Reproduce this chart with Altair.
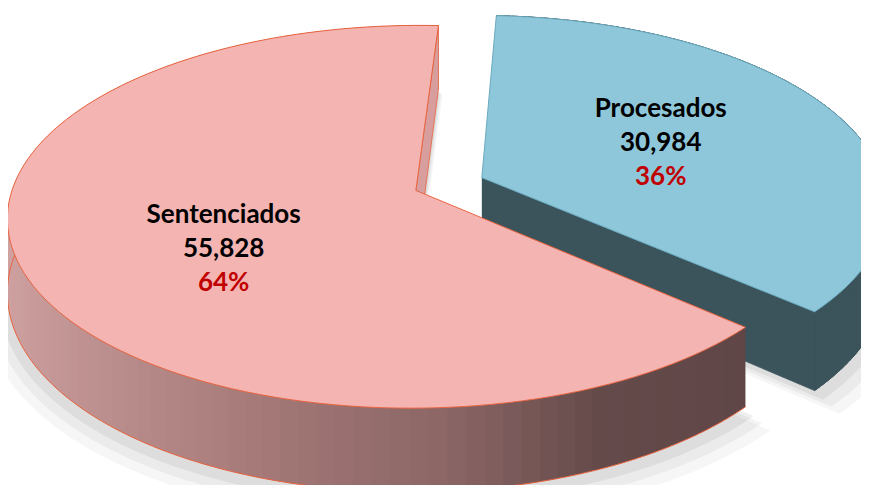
import altair as alt
import pandas as pd

# ---------------- data ----------------
categories = ["Procesados", "Sentenciados"]
values = [30984, 55828]
slice_order = [0, 1]

# ---------------- style / geometry ----------------
WIDTH, HEIGHT = 853, 477
CX, CY = 449, 184          # projected centre of the (un-exploded) pie
RX, RY = 402, 186          # ellipse radii of the top face
DEPTH = 7.3                # perspective strength (larger = flatter)
THICK = 72                 # pie thickness in px
EXPLODE = 0.089            # explosion as fraction of radius
FIRST_ANGLE = 3            # angle of first slice (deg, clockwise from top)
LABEL_NUDGE = {"Procesados": 0, "Sentenciados": 21}

TOP_COL = {"Procesados": "#8EC7D9", "Sentenciados": "#F4B4B2"}
EDGE_COL = {"Procesados": "#6AAABF", "Sentenciados": "#E8643F"}
CUT_COL = {"Procesados": "#3B545B", "Sentenciados": "#D89E9D"}
BLUE_SIDE = "#3B545B"
PINK_GRAD_DOMAIN = [20, 300, 450, 580, 760]
PINK_GRAD_RANGE = ["#CFA2A1", "#A27776", "#8A6665", "#654A4A", "#5E4545"]

df = pd.DataFrame({"category": categories, "value": values, "order": slice_order})

XS = alt.Scale(domain=[8, 8 + WIDTH], nice=False, zero=False)
YS = alt.Scale(domain=[8, 8 + HEIGHT], reverse=True, nice=False, zero=False)


def base(cat=None):
    ch = (alt.Chart(df)
          .transform_joinaggregate(total="sum(value)")
          .transform_window(cum="sum(value)", sort=[alt.SortField("order", order="ascending")],
                            frame=[None, 0])
          .transform_calculate(a0=f"((datum.cum - datum.value) / datum.total * 360 + {FIRST_ANGLE}) * PI / 180")
          .transform_calculate(a1=f"(datum.cum / datum.total * 360 + {FIRST_ANGLE}) * PI / 180")
          .transform_calculate(am="(datum.a0 + datum.a1) / 2")
          .transform_calculate(ex=f"{EXPLODE} * sin(datum.am)")
          .transform_calculate(ey=f"-{EXPLODE} * cos(datum.am)"))
    if cat is not None:
        ch = ch.transform_filter(alt.datum.category == cat)
    return ch


def project(ch, z="0", dx=0, dy=0):
    return (ch.transform_calculate(s=f"{DEPTH} / ({DEPTH} - datum.v)")
              .transform_calculate(px=f"{CX + dx} + {RX} * datum.u * datum.s")
              .transform_calculate(py=f"{CY + dy} + ({RY} * datum.v + {z}) * datum.s"))


def enc(ch, detail, **extra):
    return ch.encode(x=alt.X("px:Q", scale=XS, axis=None),
                     y=alt.Y("py:Q", scale=YS, axis=None),
                     order=alt.Order("idx:Q"),
                     detail=detail, **extra)


N_ARC = 120


def sector(cat=None, z="0", rs=1.0, dx=0, dy=0):
    ch = base(cat).transform_calculate(idx=f"sequence(0, {N_ARC + 3})").transform_flatten(["idx"])
    ch = ch.transform_calculate(t=f"datum.a0 + (datum.a1 - datum.a0) * clamp(datum.idx - 1, 0, {N_ARC}) / {N_ARC}")
    ch = ch.transform_calculate(r=f"(datum.idx == 0 || datum.idx == {N_ARC + 2}) ? 0 : {rs}")
    ch = ch.transform_calculate(u="datum.ex + datum.r * sin(datum.t)")
    ch = ch.transform_calculate(v="datum.ey - datum.r * cos(datum.t)")
    return project(ch, z, dx, dy)


def arc_line(cat, z):
    ch = base(cat).transform_calculate(idx=f"sequence(0, {N_ARC + 1})").transform_flatten(["idx"])
    ch = ch.transform_calculate(t=f"datum.a0 + (datum.a1 - datum.a0) * datum.idx / {N_ARC}")
    ch = ch.transform_calculate(u="datum.ex + sin(datum.t)")
    ch = ch.transform_calculate(v="datum.ey - cos(datum.t)")
    return project(ch, z)


M_SIDE = 100


def side(cat):
    ch = base(cat).transform_calculate(k=f"sequence(0, {M_SIDE})").transform_flatten(["k"])
    ch = ch.transform_calculate(idx="sequence(0, 4)").transform_flatten(["idx"])
    # quads overlap their neighbour a little so no seams show
    ch = ch.transform_calculate(
        t=f"datum.a0 + (datum.a1 - datum.a0) * ((datum.idx == 1 || datum.idx == 2) ? min(datum.k + 1.8, {M_SIDE}) : datum.k) / {M_SIDE}")
    ch = ch.transform_calculate(tm=f"datum.a0 + (datum.a1 - datum.a0) * (datum.k + 0.5) / {M_SIDE}")
    ch = ch.transform_calculate(z=f"datum.idx >= 2 ? {THICK} : 0")
    ch = ch.transform_calculate(u="datum.ex + sin(datum.t)")
    ch = ch.transform_calculate(v="datum.ey - cos(datum.t)")
    ch = ch.transform_calculate(gx=f"{CX} + {RX} * (datum.ex + sin(datum.tm))")
    return project(ch, "datum.z")


def pxy(u, v):
    s = f"({DEPTH} / ({DEPTH} - ({v})))"
    return f"({RX} * ({u}) * {s})", f"({RY} * ({v}) * {s})"


def radial(cat):
    ch = base(cat).transform_calculate(face="sequence(0, 2)").transform_flatten(["face"])
    ch = ch.transform_calculate(t="datum.face == 0 ? datum.a0 : datum.a1")
    ch = ch.transform_calculate(ti="datum.face == 0 ? datum.a0 + 0.1 : datum.a1 - 0.1")
    X0, Y0 = pxy("datum.ex", "datum.ey")
    X1, Y1 = pxy("datum.ex + sin(datum.t)", "datum.ey - cos(datum.t)")
    XQ, YQ = pxy("datum.ex + 0.5 * sin(datum.ti)", "datum.ey - 0.5 * cos(datum.ti)")
    ch = ch.transform_calculate(
        vis=f"(({X1}) - ({X0})) * ((({X1}) - ({X0})) * (({YQ}) - ({Y0})) - (({Y1}) - ({Y0})) * (({XQ}) - ({X0}))) < 0")
    ch = ch.transform_filter("datum.vis")
    ch = ch.transform_calculate(idx="sequence(0, 4)").transform_flatten(["idx"])
    ch = ch.transform_calculate(r="(datum.idx == 1 || datum.idx == 2) ? 1 : 0")
    ch = ch.transform_calculate(z=f"datum.idx >= 2 ? {THICK} : 0")
    ch = ch.transform_calculate(u="datum.ex + datum.r * sin(datum.t)")
    ch = ch.transform_calculate(v="datum.ey - datum.r * cos(datum.t)")
    return project(ch, "datum.z")


layers = []

# soft shadow (stacked translucent halos under the pie)
for rs, dx, dy, op in [(1.06, 3, 14, 0.035), (1.04, 2, 10, 0.045), (1.02, 1, 6, 0.06)]:
    layers.append(enc(sector(None, z=str(THICK), rs=rs, dx=dx, dy=dy), "category:N").mark_line(
        filled=True, color="#000000", opacity=op, strokeWidth=0))

for cat in categories:
    # curved outer side
    if cat == "Sentenciados":
        grad = alt.Scale(domain=PINK_GRAD_DOMAIN, range=PINK_GRAD_RANGE, clamp=True)
        layers.append(enc(side(cat), ["category:N", "k:O"],
                          fill=alt.Fill("gx:Q", scale=grad, legend=None)).mark_line(
            filled=True, strokeWidth=0))
        layers.append(enc(arc_line(cat, str(THICK)), "category:N").mark_line(
            color=EDGE_COL[cat], strokeWidth=1))
    else:
        layers.append(enc(side(cat), ["category:N", "k:O"]).mark_line(
            filled=True, color=BLUE_SIDE, stroke=BLUE_SIDE, strokeWidth=1))
    # visible radial cut faces
    layers.append(enc(radial(cat), ["category:N", "face:O"]).mark_line(
        filled=True, color=CUT_COL[cat], stroke=EDGE_COL[cat] if cat == "Sentenciados" else CUT_COL[cat],
        strokeWidth=0.8))
    # top face
    layers.append(enc(sector(cat), "category:N").mark_line(
        filled=True, color=TOP_COL[cat], stroke=EDGE_COL[cat], strokeWidth=1))

# labels
nudge_expr = " : ".join(f"datum.category == '{c}' ? {n}" for c, n in LABEL_NUDGE.items()) + " : 0"
lab = base().transform_calculate(u="datum.ex + 0.5 * sin(datum.am)")
lab = lab.transform_calculate(v="datum.ey - 0.5 * cos(datum.am)")
lab = project(lab, z=f"({nudge_expr})")
lab = lab.transform_calculate(vtxt="format(datum.value, ',')")
lab = lab.transform_calculate(ptxt="format(datum.value / datum.total, '.0%')")
pos = dict(x=alt.X("px:Q", scale=XS, axis=None), y=alt.Y("py:Q", scale=YS, axis=None))
FONT = dict(font="Lato", fontWeight="bold", fontSize=26, align="center", baseline="middle")
layers.append(lab.mark_text(dy=-34, color="#000000", **FONT).encode(text="category:N", **pos))
layers.append(lab.mark_text(dy=0, color="#000000", **FONT).encode(text="vtxt:N", **pos))
layers.append(lab.mark_text(dy=34, color="#C00000", **FONT).encode(text="ptxt:N", **pos))

chart = alt.layer(*layers).properties(
    width=WIDTH, height=HEIGHT, padding=0,
    autosize=alt.AutoSizeParams(type="none")
).configure_view(stroke=None)

chart.save("out.html", embed_options={"renderer": "svg", "actions": False})
